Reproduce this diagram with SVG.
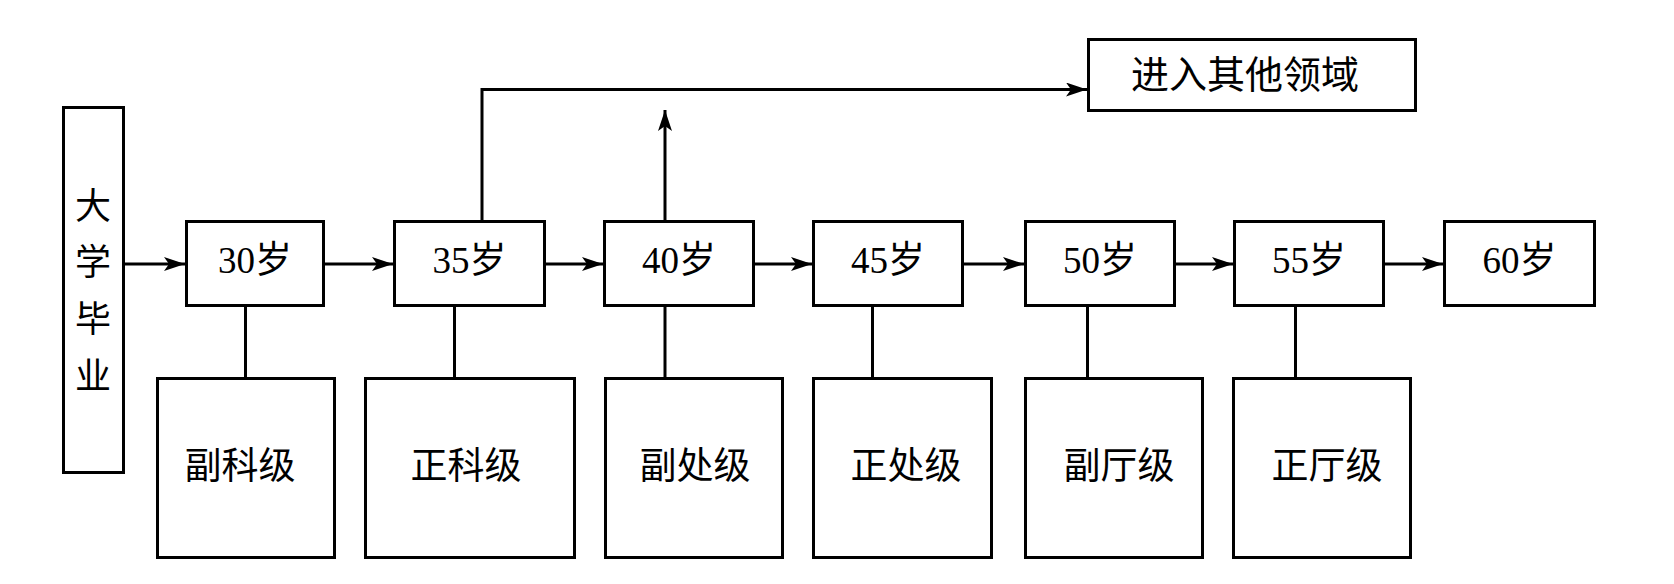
<svg xmlns="http://www.w3.org/2000/svg" width="1674" height="584" viewBox="0 0 1674 584">
<style>
.box{fill:#fff;stroke:#000;stroke-width:3}
.ln{fill:none;stroke:#000;stroke-width:3}
.t{font-family:"Liberation Serif","Noto Sans CJK SC",serif;fill:#000;text-anchor:middle}
.age{font-size:37px}
.vert{font-size:36px}
.lvl{font-size:37px}
</style>
<defs>
<marker id="arr" markerUnits="userSpaceOnUse" markerWidth="24" markerHeight="16" refX="21" refY="7" orient="auto">
<path d="M0,0 L21,7 L0,14 L5,7 z" fill="#000"/>
</marker>
</defs>
<g id="connectors">
<line class="ln" x1="125" y1="264" x2="185" y2="264" marker-end="url(#arr)"/>
<line class="ln" x1="325" y1="264" x2="393" y2="264" marker-end="url(#arr)"/>
<line class="ln" x1="546" y1="264" x2="603" y2="264" marker-end="url(#arr)"/>
<line class="ln" x1="755" y1="264" x2="812" y2="264" marker-end="url(#arr)"/>
<line class="ln" x1="964" y1="264" x2="1024" y2="264" marker-end="url(#arr)"/>
<line class="ln" x1="1176" y1="264" x2="1233" y2="264" marker-end="url(#arr)"/>
<line class="ln" x1="1385" y1="264" x2="1443" y2="264" marker-end="url(#arr)"/>
<polyline class="ln" points="482,221 482,89.5 1087,89.5" marker-end="url(#arr)"/>
<line class="ln" x1="665" y1="221" x2="665" y2="110" marker-end="url(#arr)"/>
<line class="ln" x1="245.5" y1="306" x2="245.5" y2="378"/>
<line class="ln" x1="454.5" y1="306" x2="454.5" y2="378"/>
<line class="ln" x1="665" y1="306" x2="665" y2="378"/>
<line class="ln" x1="872.5" y1="306" x2="872.5" y2="378"/>
<line class="ln" x1="1087.5" y1="306" x2="1087.5" y2="378"/>
<line class="ln" x1="1295.5" y1="306" x2="1295.5" y2="378"/>
</g>
<g id="grad">
<rect class="box" x="63.5" y="107.5" width="60" height="365"/>
<text class="t vert" x="93" y="219">大</text>
<text class="t vert" x="93" y="275">学</text>
<text class="t vert" x="93" y="332">毕</text>
<text class="t vert" x="93" y="389">业</text>
</g>
<g id="age30"><rect class="box" x="186.5" y="221.5" width="137" height="84"/><text class="t age" x="255" y="273">30岁</text></g>
<g id="age35"><rect class="box" x="394.5" y="221.5" width="150" height="84"/><text class="t age" x="469.5" y="273">35岁</text></g>
<g id="age40"><rect class="box" x="604.5" y="221.5" width="149" height="84"/><text class="t age" x="679" y="273">40岁</text></g>
<g id="age45"><rect class="box" x="813.5" y="221.5" width="149" height="84"/><text class="t age" x="888" y="273">45岁</text></g>
<g id="age50"><rect class="box" x="1025.5" y="221.5" width="149" height="84"/><text class="t age" x="1100" y="273">50岁</text></g>
<g id="age55"><rect class="box" x="1234.5" y="221.5" width="149" height="84"/><text class="t age" x="1309" y="273">55岁</text></g>
<g id="age60"><rect class="box" x="1444.5" y="221.5" width="150" height="84"/><text class="t age" x="1519.5" y="273">60岁</text></g>
<g id="other"><rect class="box" x="1088.5" y="39.5" width="327" height="71"/><text class="t" style="font-size:38px" x="1245" y="88">进入其他领域</text></g>
<g id="lvl1"><rect class="box" x="157.5" y="378.5" width="177" height="179"/><text class="t lvl" x="240" y="479">副科级</text></g>
<g id="lvl2"><rect class="box" x="365.5" y="378.5" width="209" height="179"/><text class="t lvl" x="466" y="479">正科级</text></g>
<g id="lvl3"><rect class="box" x="605.5" y="378.5" width="177" height="179"/><text class="t lvl" x="695" y="479">副处级</text></g>
<g id="lvl4"><rect class="box" x="813.5" y="378.5" width="178" height="179"/><text class="t lvl" x="906" y="479">正处级</text></g>
<g id="lvl5"><rect class="box" x="1025.5" y="378.5" width="177" height="179"/><text class="t lvl" x="1119" y="479">副厅级</text></g>
<g id="lvl6"><rect class="box" x="1233.5" y="378.5" width="177" height="179"/><text class="t lvl" x="1327" y="479">正厅级</text></g>
</svg>
